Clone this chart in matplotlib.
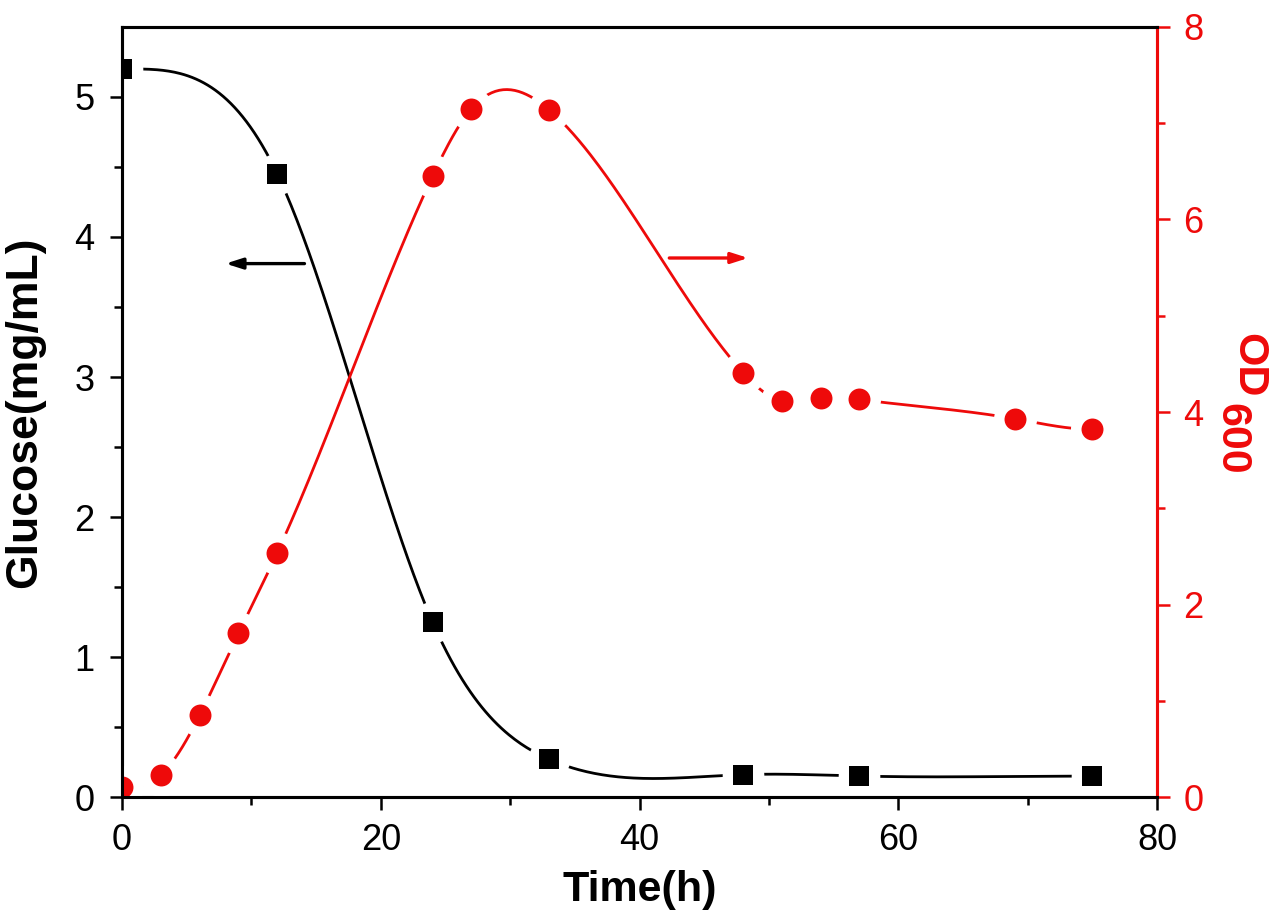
import numpy as np
import matplotlib
matplotlib.use('Agg')
import matplotlib.pyplot as plt

# ---- data ----
time_glucose = [0, 12, 24, 33, 48, 57, 75]
glucose = [5.20, 4.45, 1.25, 0.27, 0.16, 0.15, 0.15]
time_od = [0, 3, 6, 9, 12, 24, 27, 33, 48, 51, 54, 57, 69, 75]
od600 = [0.10, 0.23, 0.85, 1.70, 2.54, 6.45, 7.15, 7.14, 4.41, 4.11, 4.15, 4.13, 3.93, 3.82]
x_ticks = [0, 20, 40, 60, 80]
glucose_ticks = [0, 1, 2, 3, 4, 5]
od_ticks = [0, 2, 4, 6, 8]

RED = '#ee0a0a'
FONT = 'Liberation Sans'
plt.rcParams['font.family'] = [FONT, 'DejaVu Sans']


def spline_line(x, y, n=500):
    """Smooth connecting line (clamped cubic spline) through the measured points."""
    x = np.asarray(x, float)
    y = np.asarray(y, float)
    N = len(x)
    h = np.diff(x)
    A = np.zeros((N, N))
    b = np.zeros(N)
    A[0, 0] = 2 * h[0]; A[0, 1] = h[0]
    b[0] = 6 * ((y[1] - y[0]) / h[0])
    A[-1, -2] = h[-1]; A[-1, -1] = 2 * h[-1]
    b[-1] = 6 * (0 - (y[-1] - y[-2]) / h[-1])
    for i in range(1, N - 1):
        A[i, i - 1] = h[i - 1]
        A[i, i] = 2 * (h[i - 1] + h[i])
        A[i, i + 1] = h[i]
        b[i] = 6 * ((y[i + 1] - y[i]) / h[i] - (y[i] - y[i - 1]) / h[i - 1])
    M = np.linalg.solve(A, b)
    xs = np.linspace(x[0], x[-1], n)
    idx = np.clip(np.searchsorted(x, xs) - 1, 0, N - 2)
    hh = h[idx]
    t0 = x[idx + 1] - xs
    t1 = xs - x[idx]
    ys = (M[idx] * t0 ** 3 / (6 * hh) + M[idx + 1] * t1 ** 3 / (6 * hh)
          + (y[idx] / hh - M[idx] * hh / 6) * t0
          + (y[idx + 1] / hh - M[idx + 1] * hh / 6) * t1)
    return xs, ys


fig = plt.figure(figsize=(12.74, 9.24), dpi=100)
ax = fig.add_axes([0.0958, 0.1374, 0.8124, 0.8334])
ax2 = ax.twinx()

# glucose
gx, gy = spline_line(time_glucose, glucose)
ax.plot(gx, gy, color='black', lw=2.0, zorder=2)
ax.plot(time_glucose, glucose, ls='none', marker='o', ms=30, mew=0,
        color='white', zorder=3)
ax.plot(time_glucose, glucose, ls='none', marker='s', ms=14.4, mew=0,
        color='black', zorder=4)

# OD600
ox, oy = spline_line(time_od, od600)
ax2.plot(ox, oy, color=RED, lw=2.0, zorder=2)
ax2.plot(time_od, od600, ls='none', marker='o', ms=31, mew=0,
         color='white', zorder=3)
ax2.plot(time_od, od600, ls='none', marker='o', ms=15.8, mew=0,
         color=RED, zorder=4)

# limits and ticks
ax.set_xlim(0, 80)
ax.set_ylim(0, 5.5)
ax2.set_ylim(0, 8)
ax.set_xticks(x_ticks)
ax.set_xticks([10, 30, 50, 70], minor=True)
ax.set_yticks(glucose_ticks)
ax.set_yticks([0.5, 1.5, 2.5, 3.5, 4.5], minor=True)
ax2.set_yticks(od_ticks)
ax2.set_yticks([1, 3, 5, 7], minor=True)

ax.tick_params(axis='both', which='major', direction='out', length=9, width=1.8,
               labelsize=26, colors='black')
ax.tick_params(axis='x', which='major', pad=10)
ax.tick_params(axis='y', which='major', pad=11)
ax.tick_params(axis='both', which='minor', direction='out', length=5.5, width=1.8)
ax2.tick_params(axis='y', which='major', direction='out', length=9, width=1.8,
                labelsize=26, colors=RED, pad=10)
ax2.tick_params(axis='y', which='minor', direction='out', length=5.5, width=1.8,
                colors=RED)
for lab in ax.get_xticklabels() + ax.get_yticklabels() + ax2.get_yticklabels():
    lab.set_fontfamily(FONT)

for a in (ax, ax2):
    for s in a.spines.values():
        s.set_linewidth(2.2)
        s.set_zorder(10)
    a.spines['top'].set_color('black')
    a.spines['left'].set_color('black')
    a.spines['bottom'].set_color('black')
    a.spines['right'].set_color(RED)

# labels
ax.set_xlabel('Time(h)', fontsize=31, fontweight='bold', family=FONT)
ax.xaxis.set_label_coords(0.5, -0.095)
ax.set_ylabel('Glucose(mg/mL)', fontsize=32, fontweight='bold', family=FONT)
ax.yaxis.set_label_coords(-0.094, 0.5)
ax.yaxis.label.set_verticalalignment('center')

ax2.text(1.088, 0.561, 'OD', transform=ax2.transAxes, rotation=270,
         ha='center', va='center', fontsize=31, fontweight='bold',
         color=RED, family=FONT)
ax2.text(1.072, 0.4655, '600', transform=ax2.transAxes, rotation=270,
         ha='center', va='center', fontsize=31, fontweight='bold',
         color=RED, family=FONT)

# direction arrows
ax.annotate('', xy=(8.0, 3.81), xytext=(14.1, 3.81),
            arrowprops=dict(arrowstyle='-|>,head_length=1.0,head_width=0.32',
                            color='black', lw=2.4, shrinkA=0, shrinkB=0))
ax2.annotate('', xy=(48.4, 5.6), xytext=(42.3, 5.6),
             arrowprops=dict(arrowstyle='-|>,head_length=1.0,head_width=0.32',
                             color=RED, lw=2.4, shrinkA=0, shrinkB=0))

fig.savefig('out.png', dpi=100, facecolor='white')
